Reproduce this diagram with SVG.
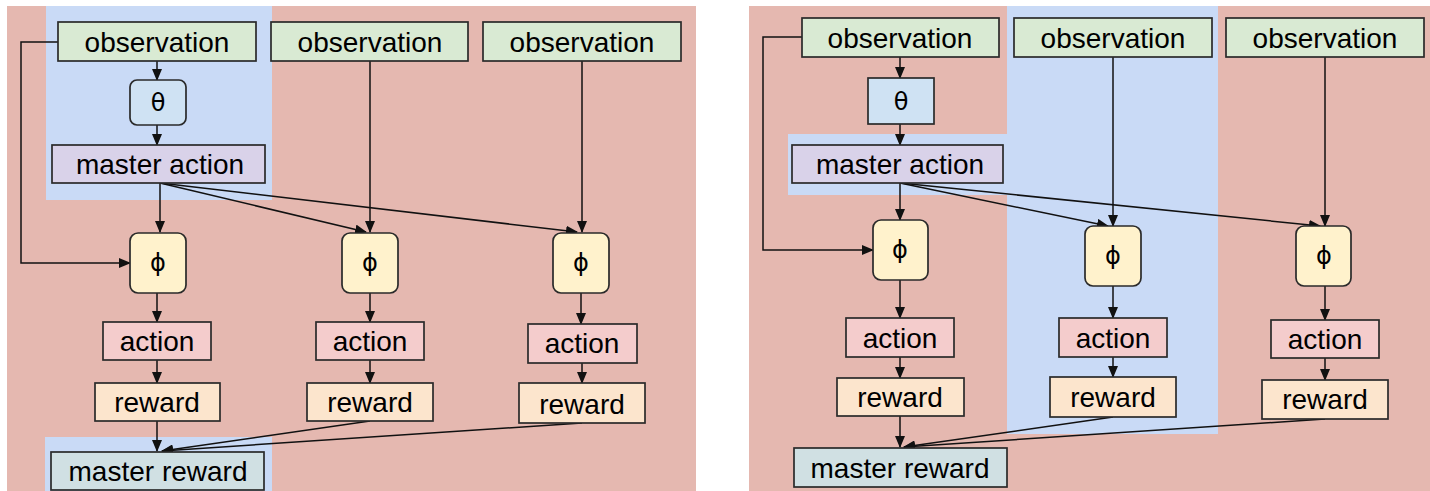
<svg xmlns="http://www.w3.org/2000/svg" width="1430" height="491" viewBox="0 0 1430 491">
  <style>
    .bg-red { fill: #e5b8b0; }
    .bg-blue { fill: #c9daf6; }
    .box { stroke: #2a2a2a; stroke-width: 1.7; }
    .obs { fill: #d9ead3; }
    .theta { fill: #cfe2f3; }
    .mact { fill: #d9d2e9; }
    .phi { fill: #fff2cc; }
    .act { fill: #f4cccc; }
    .rew { fill: #fce5cd; }
    .mrew { fill: #d0e0e3; }
    .lbl { font-family: "Liberation Sans", Arial, sans-serif; font-size: 28px; fill: #000; text-anchor: middle; }
    .sym { font-family: "DejaVu Sans", "Liberation Sans", sans-serif; font-size: 24px; fill: #000; text-anchor: middle; }
    .edge { fill: none; stroke: #111; stroke-width: 1.5; marker-end: url(#arrow); }
  </style>
  <defs>
    <marker id="arrow" markerUnits="userSpaceOnUse" markerWidth="12" markerHeight="10" refX="11" refY="5" orient="auto">
      <path d="M0,0 L12,5 L0,10 Z" fill="#111"/>
    </marker>
  </defs>

  <rect width="1430" height="491" fill="#ffffff"/>

  <!-- left panel backgrounds -->
  <g id="left-background">
    <rect class="bg-red" x="7" y="6" width="689" height="485"/>
    <rect class="bg-blue" x="46" y="6" width="226" height="194"/>
    <rect class="bg-blue" x="45" y="437" width="227" height="54"/>
  </g>

  <!-- right panel backgrounds -->
  <g id="right-background">
    <rect class="bg-red" x="749" y="6" width="681" height="485"/>
    <rect class="bg-blue" x="1007" y="6" width="211" height="428"/>
    <rect class="bg-blue" x="788" y="134" width="219" height="61"/>
  </g>

  <!-- left panel connectors -->
  <g id="left-connectors">
    <path class="edge" d="M157,61 L157,80"/>
    <path class="edge" d="M157,125 L157,145"/>
    <path class="edge" d="M58,42 L21,42 L21,263 L130,263"/>
    <path class="edge" d="M160,183 L160,232"/>
    <path class="edge" d="M160,183 L366,232"/>
    <path class="edge" d="M160,183 L577,232"/>
    <path class="edge" d="M370,61 L370,232"/>
    <path class="edge" d="M582,61 L582,232"/>
    <path class="edge" d="M157,293 L157,322"/>
    <path class="edge" d="M370,293 L370,322"/>
    <path class="edge" d="M581,293 L581,324"/>
    <path class="edge" d="M157,360 L157,383"/>
    <path class="edge" d="M370,360 L370,383"/>
    <path class="edge" d="M582,363 L582,383"/>
    <path class="edge" d="M157,421 L157,451"/>
    <path class="edge" d="M370,421 L162,451"/>
    <path class="edge" d="M582,423 L162,451"/>
  </g>

  <!-- right panel connectors -->
  <g id="right-connectors">
    <path class="edge" d="M900,57 L900,78"/>
    <path class="edge" d="M900,124 L900,145"/>
    <path class="edge" d="M802,37 L763,37 L763,250 L873,250"/>
    <path class="edge" d="M900,183 L900,220"/>
    <path class="edge" d="M900,183 L1108,226"/>
    <path class="edge" d="M900,183 L1320,226"/>
    <path class="edge" d="M1113,57 L1113,226"/>
    <path class="edge" d="M1325,57 L1325,226"/>
    <path class="edge" d="M900,280 L900,318"/>
    <path class="edge" d="M1113,286 L1113,318"/>
    <path class="edge" d="M1325,286 L1325,320"/>
    <path class="edge" d="M900,357 L900,378"/>
    <path class="edge" d="M1113,357 L1113,377"/>
    <path class="edge" d="M1325,358 L1325,380"/>
    <path class="edge" d="M900,416 L900,447"/>
    <path class="edge" d="M1113,417 L904,447"/>
    <path class="edge" d="M1325,419 L904,447"/>
  </g>

  <!-- left panel nodes -->
  <g id="l-obs1"><rect class="box obs" x="58" y="22" width="198" height="39"/><text class="lbl" x="157" y="52">observation</text></g>
  <g id="l-obs2"><rect class="box obs" x="271" y="22" width="197" height="39"/><text class="lbl" x="370" y="52">observation</text></g>
  <g id="l-obs3"><rect class="box obs" x="483" y="22" width="198" height="39"/><text class="lbl" x="582" y="52">observation</text></g>
  <g id="l-theta"><rect class="box theta" x="130" y="80" width="56" height="45" rx="7"/><text class="sym" x="158" y="111">θ</text></g>
  <g id="l-master-action"><rect class="box mact" x="52" y="145" width="213" height="38"/><text class="lbl" x="160" y="174">master action</text></g>
  <g id="l-phi1"><rect class="box phi" x="130" y="233" width="56" height="60" rx="8"/><text class="sym" x="158" y="271">ϕ</text></g>
  <g id="l-phi2"><rect class="box phi" x="342" y="233" width="56" height="60" rx="8"/><text class="sym" x="370" y="271">ϕ</text></g>
  <g id="l-phi3"><rect class="box phi" x="553" y="233" width="56" height="60" rx="8"/><text class="sym" x="581" y="271">ϕ</text></g>
  <g id="l-action1"><rect class="box act" x="103" y="322" width="108" height="38"/><text class="lbl" x="157" y="351">action</text></g>
  <g id="l-action2"><rect class="box act" x="316" y="322" width="108" height="38"/><text class="lbl" x="370" y="351">action</text></g>
  <g id="l-action3"><rect class="box act" x="528" y="324" width="109" height="39"/><text class="lbl" x="582" y="353">action</text></g>
  <g id="l-reward1"><rect class="box rew" x="95" y="383" width="125" height="38"/><text class="lbl" x="157" y="412">reward</text></g>
  <g id="l-reward2"><rect class="box rew" x="307" y="383" width="126" height="38"/><text class="lbl" x="370" y="412">reward</text></g>
  <g id="l-reward3"><rect class="box rew" x="519" y="383" width="126" height="40"/><text class="lbl" x="582" y="414">reward</text></g>
  <g id="l-master-reward"><rect class="box mrew" x="51" y="452" width="213" height="38"/><text class="lbl" x="158" y="481">master reward</text></g>

  <!-- right panel nodes -->
  <g id="r-obs1"><rect class="box obs" x="802" y="18" width="197" height="39"/><text class="lbl" x="900" y="48">observation</text></g>
  <g id="r-obs2"><rect class="box obs" x="1014" y="18" width="198" height="39"/><text class="lbl" x="1113" y="48">observation</text></g>
  <g id="r-obs3"><rect class="box obs" x="1226" y="18" width="198" height="39"/><text class="lbl" x="1325" y="48">observation</text></g>
  <g id="r-theta"><rect class="box theta" x="868" y="78" width="66" height="46"/><text class="sym" x="901" y="110">θ</text></g>
  <g id="r-master-action"><rect class="box mact" x="792" y="145" width="211" height="38"/><text class="lbl" x="900" y="174">master action</text></g>
  <g id="r-phi1"><rect class="box phi" x="873" y="220" width="55" height="60" rx="8"/><text class="sym" x="900" y="258">ϕ</text></g>
  <g id="r-phi2"><rect class="box phi" x="1085" y="226" width="56" height="60" rx="8"/><text class="sym" x="1113" y="264">ϕ</text></g>
  <g id="r-phi3"><rect class="box phi" x="1296" y="226" width="55" height="60" rx="8"/><text class="sym" x="1324" y="264">ϕ</text></g>
  <g id="r-action1"><rect class="box act" x="846" y="318" width="108" height="39"/><text class="lbl" x="900" y="348">action</text></g>
  <g id="r-action2"><rect class="box act" x="1059" y="318" width="108" height="39"/><text class="lbl" x="1113" y="348">action</text></g>
  <g id="r-action3"><rect class="box act" x="1271" y="320" width="108" height="38"/><text class="lbl" x="1325" y="349">action</text></g>
  <g id="r-reward1"><rect class="box rew" x="837" y="378" width="127" height="38"/><text class="lbl" x="900" y="407">reward</text></g>
  <g id="r-reward2"><rect class="box rew" x="1050" y="377" width="126" height="40"/><text class="lbl" x="1113" y="407">reward</text></g>
  <g id="r-reward3"><rect class="box rew" x="1262" y="380" width="126" height="39"/><text class="lbl" x="1325" y="409">reward</text></g>
  <g id="r-master-reward"><rect class="box mrew" x="794" y="448" width="213" height="39"/><text class="lbl" x="900" y="478">master reward</text></g>
</svg>
